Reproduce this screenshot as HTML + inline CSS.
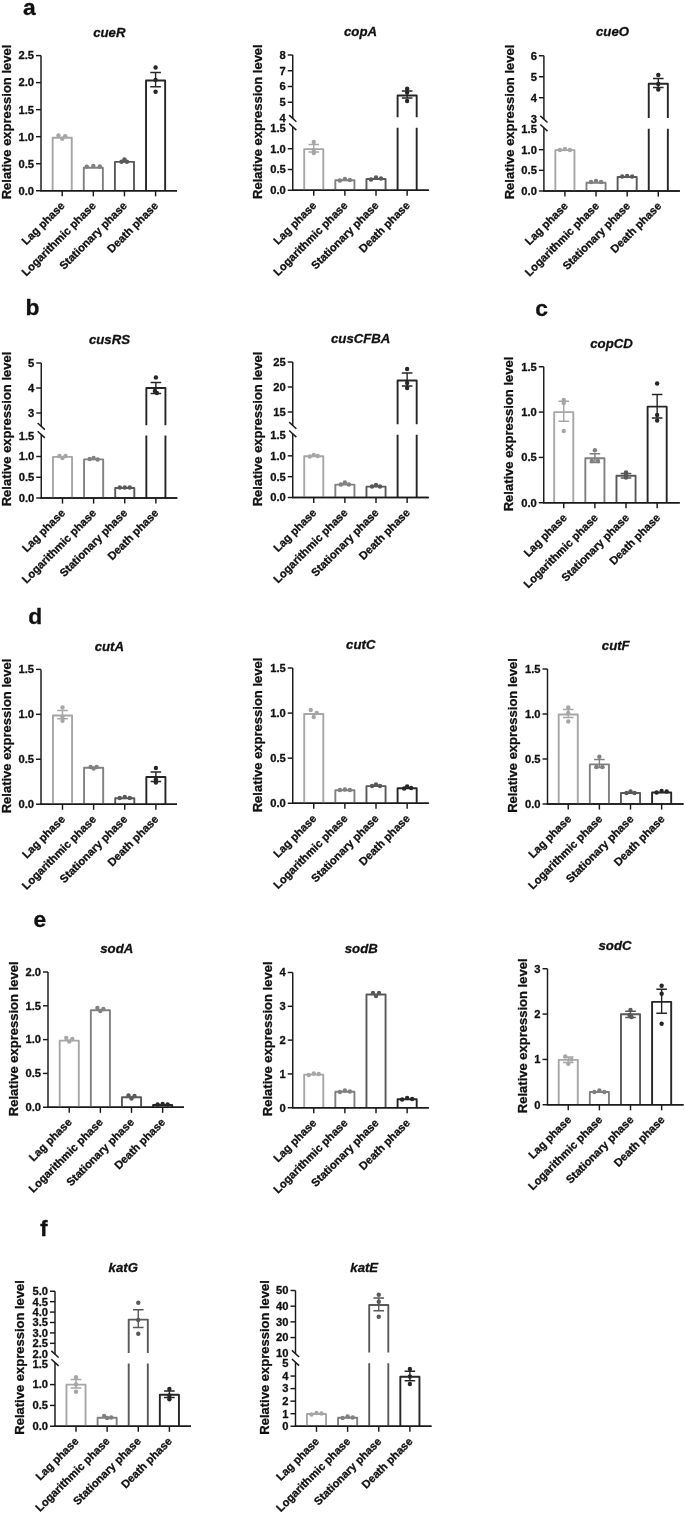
<!DOCTYPE html>
<html><head><meta charset="utf-8"><style>html,body{margin:0;padding:0;background:#fff}svg{display:block;will-change:transform}</style></head><body>
<svg width="685" height="1514" viewBox="0 0 685 1514" font-family="Liberation Sans, sans-serif" font-weight="bold" fill="#111" stroke-linejoin="round"><g stroke="#111" stroke-width="0.3">
<text x="23" y="14.5" font-size="22.8">a</text>
<text x="25.6" y="315.2" font-size="22.8">b</text>
<text x="535.2" y="315.5" font-size="22.8">c</text>
<text x="28.3" y="624.4" font-size="22.8">d</text>
<text x="33.6" y="927" font-size="22.8">e</text>
<text x="40" y="1235.6" font-size="22.8">f</text>
<text x="109.3" y="36.6" font-size="13.2" font-style="italic" text-anchor="middle">cueR</text>
<text transform="translate(11.2,122) rotate(-90)" font-size="13" text-anchor="middle">Relative expression level</text>
<line x1="41" y1="190.75" x2="41" y2="55.6" stroke="#1a1a1a" stroke-width="1.45"/>
<line x1="36" y1="190.75" x2="41" y2="190.75" stroke="#1a1a1a" stroke-width="1.45"/>
<text x="34.0" y="194.6" font-size="11.2" text-anchor="end">0.0</text>
<line x1="36" y1="163.72" x2="41" y2="163.72" stroke="#1a1a1a" stroke-width="1.45"/>
<text x="34.0" y="167.57" font-size="11.2" text-anchor="end">0.5</text>
<line x1="36" y1="136.69" x2="41" y2="136.69" stroke="#1a1a1a" stroke-width="1.45"/>
<text x="34.0" y="140.54" font-size="11.2" text-anchor="end">1.0</text>
<line x1="36" y1="109.66" x2="41" y2="109.66" stroke="#1a1a1a" stroke-width="1.45"/>
<text x="34.0" y="113.50999999999999" font-size="11.2" text-anchor="end">1.5</text>
<line x1="36" y1="82.63" x2="41" y2="82.63" stroke="#1a1a1a" stroke-width="1.45"/>
<text x="34.0" y="86.47999999999999" font-size="11.2" text-anchor="end">2.0</text>
<line x1="36" y1="55.599999999999994" x2="41" y2="55.599999999999994" stroke="#1a1a1a" stroke-width="1.45"/>
<text x="34.0" y="59.449999999999996" font-size="11.2" text-anchor="end">2.5</text>
<line x1="40.275" y1="190.75" x2="177" y2="190.75" stroke="#1a1a1a" stroke-width="1.45"/>
<path d="M52.650000000000006 190.75V137.7712H71.75V190.75" fill="none" stroke="#a6a6a6" stroke-width="1.9"/>
<circle cx="58.45" cy="135.5" r="2.2" fill="#a6a6a6" stroke="none"/>
<circle cx="62.2" cy="138.75" r="2.2" fill="#a6a6a6" stroke="none"/>
<circle cx="65.2" cy="136.25" r="2.2" fill="#a6a6a6" stroke="none"/>
<line x1="62.2" y1="190.75" x2="62.2" y2="196.35" stroke="#1a1a1a" stroke-width="1.45"/>
<text transform="translate(65.5,206.45) rotate(-45)" font-size="11.2" text-anchor="end">Lag phase</text>
<path d="M83.78 190.75V167.7745H102.88V190.75" fill="none" stroke="#808080" stroke-width="1.9"/>
<circle cx="86.83" cy="166.6" r="2.2" fill="#808080" stroke="none"/>
<circle cx="93.33" cy="165.9" r="2.2" fill="#808080" stroke="none"/>
<circle cx="99.83" cy="166.5" r="2.2" fill="#808080" stroke="none"/>
<line x1="93.33" y1="190.75" x2="93.33" y2="196.35" stroke="#1a1a1a" stroke-width="1.45"/>
<text transform="translate(96.63,206.45) rotate(-45)" font-size="11.2" text-anchor="end">Logarithmic phase</text>
<path d="M114.91000000000001 190.75V161.8279H134.01000000000002V190.75" fill="none" stroke="#595959" stroke-width="1.9"/>
<circle cx="121.46000000000001" cy="161.75" r="2.2" fill="#595959" stroke="none"/>
<circle cx="124.46000000000001" cy="159.5" r="2.2" fill="#595959" stroke="none"/>
<circle cx="126.96000000000001" cy="161.75" r="2.2" fill="#595959" stroke="none"/>
<line x1="124.46000000000001" y1="190.75" x2="124.46000000000001" y2="196.35" stroke="#1a1a1a" stroke-width="1.45"/>
<text transform="translate(127.76,206.45) rotate(-45)" font-size="11.2" text-anchor="end">Stationary phase</text>
<path d="M146.04 190.75V80.46759999999999H165.14000000000001V190.75" fill="none" stroke="#262626" stroke-width="1.9"/>
<path d="M155.59 72.5V86.75M150.29 72.5H160.89000000000001M150.29 86.75H160.89000000000001" fill="none" stroke="#262626" stroke-width="1.4"/>
<circle cx="155.59" cy="67.5" r="2.2" fill="#262626" stroke="none"/>
<circle cx="155.59" cy="80" r="2.2" fill="#262626" stroke="none"/>
<circle cx="155.59" cy="91.75" r="2.2" fill="#262626" stroke="none"/>
<line x1="155.59" y1="190.75" x2="155.59" y2="196.35" stroke="#1a1a1a" stroke-width="1.45"/>
<text transform="translate(158.89,206.45) rotate(-45)" font-size="11.2" text-anchor="end">Death phase</text>
<line x1="40.275" y1="190.75" x2="177" y2="190.75" stroke="#1a1a1a" stroke-width="1.45"/>
<text x="360.5" y="35.7" font-size="13.2" font-style="italic" text-anchor="middle">copA</text>
<text transform="translate(262.4,121.6) rotate(-90)" font-size="13" text-anchor="middle">Relative expression level</text>
<line x1="292.75" y1="190.25" x2="292.75" y2="126.8" stroke="#1a1a1a" stroke-width="1.45"/>
<line x1="287.75" y1="190.25" x2="292.75" y2="190.25" stroke="#1a1a1a" stroke-width="1.45"/>
<text x="285.75" y="194.1" font-size="11.2" text-anchor="end">0.0</text>
<line x1="287.75" y1="169.5" x2="292.75" y2="169.5" stroke="#1a1a1a" stroke-width="1.45"/>
<text x="285.75" y="173.35" font-size="11.2" text-anchor="end">0.5</text>
<line x1="287.75" y1="148.75" x2="292.75" y2="148.75" stroke="#1a1a1a" stroke-width="1.45"/>
<text x="285.75" y="152.6" font-size="11.2" text-anchor="end">1.0</text>
<text x="285.75" y="131.85" font-size="11.2" text-anchor="end">1.5</text>
<line x1="292.75" y1="118.45" x2="292.75" y2="55" stroke="#1a1a1a" stroke-width="1.45"/>
<text x="285.75" y="121.85" font-size="11.2" text-anchor="end">4</text>
<line x1="287.75" y1="102.25" x2="292.75" y2="102.25" stroke="#1a1a1a" stroke-width="1.45"/>
<text x="285.75" y="106.1" font-size="11.2" text-anchor="end">5</text>
<line x1="287.75" y1="86.5" x2="292.75" y2="86.5" stroke="#1a1a1a" stroke-width="1.45"/>
<text x="285.75" y="90.35" font-size="11.2" text-anchor="end">6</text>
<line x1="287.75" y1="70.75" x2="292.75" y2="70.75" stroke="#1a1a1a" stroke-width="1.45"/>
<text x="285.75" y="74.6" font-size="11.2" text-anchor="end">7</text>
<line x1="287.75" y1="55.0" x2="292.75" y2="55.0" stroke="#1a1a1a" stroke-width="1.45"/>
<text x="285.75" y="58.85" font-size="11.2" text-anchor="end">8</text>
<line x1="289.15" y1="123.5" x2="296.35" y2="130.1" stroke="#1a1a1a" stroke-width="1.45"/>
<line x1="289.15" y1="115.15" x2="296.35" y2="121.75" stroke="#1a1a1a" stroke-width="1.45"/>
<line x1="292.025" y1="190.25" x2="428.75" y2="190.25" stroke="#1a1a1a" stroke-width="1.45"/>
<path d="M304.2 190.25V149.165H323.3V190.25" fill="none" stroke="#a6a6a6" stroke-width="1.9"/>
<path d="M313.75 144.5V152M308.45 144.5H319.05M308.45 152H319.05" fill="none" stroke="#a6a6a6" stroke-width="1.4"/>
<circle cx="313.75" cy="142" r="2.2" fill="#a6a6a6" stroke="none"/>
<circle cx="313.75" cy="150" r="2.2" fill="#a6a6a6" stroke="none"/>
<circle cx="313.75" cy="153" r="2.2" fill="#a6a6a6" stroke="none"/>
<line x1="313.75" y1="190.25" x2="313.75" y2="195.85" stroke="#1a1a1a" stroke-width="1.45"/>
<text transform="translate(317.25,206.15) rotate(-45)" font-size="11.2" text-anchor="end">Lag phase</text>
<path d="M335.33 190.25V180.29H354.43V190.25" fill="none" stroke="#808080" stroke-width="1.9"/>
<circle cx="339.88" cy="180.5" r="2.2" fill="#808080" stroke="none"/>
<circle cx="344.88" cy="179" r="2.2" fill="#808080" stroke="none"/>
<circle cx="349.88" cy="180" r="2.2" fill="#808080" stroke="none"/>
<line x1="344.88" y1="190.25" x2="344.88" y2="195.85" stroke="#1a1a1a" stroke-width="1.45"/>
<text transform="translate(348.38,206.15) rotate(-45)" font-size="11.2" text-anchor="end">Logarithmic phase</text>
<path d="M366.46 190.25V179.045H385.56V190.25" fill="none" stroke="#595959" stroke-width="1.9"/>
<circle cx="371.01" cy="179.5" r="2.2" fill="#595959" stroke="none"/>
<circle cx="376.01" cy="177.5" r="2.2" fill="#595959" stroke="none"/>
<circle cx="381.01" cy="178.5" r="2.2" fill="#595959" stroke="none"/>
<line x1="376.01" y1="190.25" x2="376.01" y2="195.85" stroke="#1a1a1a" stroke-width="1.45"/>
<text transform="translate(379.51,206.15) rotate(-45)" font-size="11.2" text-anchor="end">Stationary phase</text>
<path d="M397.59 190.25V127.7M416.69 190.25V127.7M397.59 117.3V95.4775H416.69V117.3" fill="none" stroke="#262626" stroke-width="1.9"/>
<path d="M407.14 91V98M401.84 91H412.44M401.84 98H412.44" fill="none" stroke="#262626" stroke-width="1.4"/>
<circle cx="407.14" cy="88.8" r="2.2" fill="#262626" stroke="none"/>
<circle cx="407.14" cy="92.5" r="2.2" fill="#262626" stroke="none"/>
<circle cx="407.14" cy="101" r="2.2" fill="#262626" stroke="none"/>
<line x1="407.14" y1="190.25" x2="407.14" y2="195.85" stroke="#1a1a1a" stroke-width="1.45"/>
<text transform="translate(410.64,206.15) rotate(-45)" font-size="11.2" text-anchor="end">Death phase</text>
<line x1="292.025" y1="190.25" x2="428.75" y2="190.25" stroke="#1a1a1a" stroke-width="1.45"/>
<text x="612.5" y="36.3" font-size="13.2" font-style="italic" text-anchor="middle">cueO</text>
<text transform="translate(513.7,122) rotate(-90)" font-size="13" text-anchor="middle">Relative expression level</text>
<line x1="543.9" y1="191" x2="543.9" y2="127.8" stroke="#1a1a1a" stroke-width="1.45"/>
<line x1="538.9" y1="191.0" x2="543.9" y2="191.0" stroke="#1a1a1a" stroke-width="1.45"/>
<text x="536.9" y="194.85" font-size="11.2" text-anchor="end">0.0</text>
<line x1="538.9" y1="170.33333333333334" x2="543.9" y2="170.33333333333334" stroke="#1a1a1a" stroke-width="1.45"/>
<text x="536.9" y="174.18333333333334" font-size="11.2" text-anchor="end">0.5</text>
<line x1="538.9" y1="149.66666666666669" x2="543.9" y2="149.66666666666669" stroke="#1a1a1a" stroke-width="1.45"/>
<text x="536.9" y="153.51666666666668" font-size="11.2" text-anchor="end">1.0</text>
<text x="536.9" y="132.85" font-size="11.2" text-anchor="end">1.5</text>
<line x1="543.9" y1="119.2" x2="543.9" y2="55.75" stroke="#1a1a1a" stroke-width="1.45"/>
<text x="536.9" y="122.6" font-size="11.2" text-anchor="end">3</text>
<line x1="538.9" y1="97.75" x2="543.9" y2="97.75" stroke="#1a1a1a" stroke-width="1.45"/>
<text x="536.9" y="101.6" font-size="11.2" text-anchor="end">4</text>
<line x1="538.9" y1="76.75" x2="543.9" y2="76.75" stroke="#1a1a1a" stroke-width="1.45"/>
<text x="536.9" y="80.6" font-size="11.2" text-anchor="end">5</text>
<line x1="538.9" y1="55.75" x2="543.9" y2="55.75" stroke="#1a1a1a" stroke-width="1.45"/>
<text x="536.9" y="59.6" font-size="11.2" text-anchor="end">6</text>
<line x1="540.3" y1="124.5" x2="547.5" y2="131.1" stroke="#1a1a1a" stroke-width="1.45"/>
<line x1="540.3" y1="115.9" x2="547.5" y2="122.5" stroke="#1a1a1a" stroke-width="1.45"/>
<line x1="543.175" y1="191" x2="679.9" y2="191" stroke="#1a1a1a" stroke-width="1.45"/>
<path d="M555.35 191V150.07999999999998H574.4499999999999V191" fill="none" stroke="#a6a6a6" stroke-width="1.9"/>
<circle cx="559.9" cy="150" r="2.2" fill="#a6a6a6" stroke="none"/>
<circle cx="564.9" cy="149" r="2.2" fill="#a6a6a6" stroke="none"/>
<circle cx="569.9" cy="150" r="2.2" fill="#a6a6a6" stroke="none"/>
<line x1="564.9" y1="191" x2="564.9" y2="196.6" stroke="#1a1a1a" stroke-width="1.45"/>
<text transform="translate(568.7,206.7) rotate(-45)" font-size="11.2" text-anchor="end">Lag phase</text>
<path d="M586.48 191V182.73333333333335H605.5799999999999V191" fill="none" stroke="#808080" stroke-width="1.9"/>
<circle cx="591.03" cy="182" r="2.2" fill="#808080" stroke="none"/>
<circle cx="596.03" cy="181" r="2.2" fill="#808080" stroke="none"/>
<circle cx="601.03" cy="182" r="2.2" fill="#808080" stroke="none"/>
<line x1="596.03" y1="191" x2="596.03" y2="196.6" stroke="#1a1a1a" stroke-width="1.45"/>
<text transform="translate(599.83,206.7) rotate(-45)" font-size="11.2" text-anchor="end">Logarithmic phase</text>
<path d="M617.61 191V176.94666666666666H636.7099999999999V191" fill="none" stroke="#595959" stroke-width="1.9"/>
<circle cx="622.16" cy="176.5" r="2.2" fill="#595959" stroke="none"/>
<circle cx="627.16" cy="176" r="2.2" fill="#595959" stroke="none"/>
<circle cx="632.16" cy="176.5" r="2.2" fill="#595959" stroke="none"/>
<line x1="627.16" y1="191" x2="627.16" y2="196.6" stroke="#1a1a1a" stroke-width="1.45"/>
<text transform="translate(630.96,206.7) rotate(-45)" font-size="11.2" text-anchor="end">Stationary phase</text>
<path d="M648.74 191V128.7M667.8399999999999 191V128.7M648.74 118.05V83.68H667.8399999999999V118.05" fill="none" stroke="#262626" stroke-width="1.9"/>
<path d="M658.29 78.5V87.5M652.99 78.5H663.5899999999999M652.99 87.5H663.5899999999999" fill="none" stroke="#262626" stroke-width="1.4"/>
<circle cx="658.29" cy="75" r="2.2" fill="#262626" stroke="none"/>
<circle cx="658.29" cy="84" r="2.2" fill="#262626" stroke="none"/>
<circle cx="658.29" cy="89.5" r="2.2" fill="#262626" stroke="none"/>
<line x1="658.29" y1="191" x2="658.29" y2="196.6" stroke="#1a1a1a" stroke-width="1.45"/>
<text transform="translate(662.09,206.7) rotate(-45)" font-size="11.2" text-anchor="end">Death phase</text>
<line x1="543.175" y1="191" x2="679.9" y2="191" stroke="#1a1a1a" stroke-width="1.45"/>
<text x="109.5" y="343.75" font-size="13.2" font-style="italic" text-anchor="middle">cusRS</text>
<text transform="translate(11.2,429) rotate(-90)" font-size="13" text-anchor="middle">Relative expression level</text>
<line x1="41.25" y1="498" x2="41.25" y2="434.55" stroke="#1a1a1a" stroke-width="1.45"/>
<line x1="36.25" y1="498.0" x2="41.25" y2="498.0" stroke="#1a1a1a" stroke-width="1.45"/>
<text x="34.25" y="501.85" font-size="11.2" text-anchor="end">0.0</text>
<line x1="36.25" y1="477.25" x2="41.25" y2="477.25" stroke="#1a1a1a" stroke-width="1.45"/>
<text x="34.25" y="481.1" font-size="11.2" text-anchor="end">0.5</text>
<line x1="36.25" y1="456.5" x2="41.25" y2="456.5" stroke="#1a1a1a" stroke-width="1.45"/>
<text x="34.25" y="460.35" font-size="11.2" text-anchor="end">1.0</text>
<text x="34.25" y="439.6" font-size="11.2" text-anchor="end">1.5</text>
<line x1="41.25" y1="426.34999999999997" x2="41.25" y2="363" stroke="#1a1a1a" stroke-width="1.45"/>
<line x1="36.25" y1="413.0" x2="41.25" y2="413.0" stroke="#1a1a1a" stroke-width="1.45"/>
<text x="34.25" y="416.85" font-size="11.2" text-anchor="end">3</text>
<line x1="36.25" y1="388.0" x2="41.25" y2="388.0" stroke="#1a1a1a" stroke-width="1.45"/>
<text x="34.25" y="391.85" font-size="11.2" text-anchor="end">4</text>
<line x1="36.25" y1="363.0" x2="41.25" y2="363.0" stroke="#1a1a1a" stroke-width="1.45"/>
<text x="34.25" y="366.85" font-size="11.2" text-anchor="end">5</text>
<line x1="37.65" y1="431.25" x2="44.85" y2="437.85" stroke="#1a1a1a" stroke-width="1.45"/>
<line x1="37.65" y1="423.04999999999995" x2="44.85" y2="429.65" stroke="#1a1a1a" stroke-width="1.45"/>
<line x1="40.525" y1="498" x2="177.25" y2="498" stroke="#1a1a1a" stroke-width="1.45"/>
<path d="M52.95 498V456.915H72.05V498" fill="none" stroke="#a6a6a6" stroke-width="1.9"/>
<circle cx="59.5" cy="456" r="2.2" fill="#a6a6a6" stroke="none"/>
<circle cx="62.5" cy="458" r="2.2" fill="#a6a6a6" stroke="none"/>
<circle cx="65.5" cy="456" r="2.2" fill="#a6a6a6" stroke="none"/>
<line x1="62.5" y1="498" x2="62.5" y2="503.6" stroke="#1a1a1a" stroke-width="1.45"/>
<text transform="translate(65.8,513.7) rotate(-45)" font-size="11.2" text-anchor="end">Lag phase</text>
<path d="M84.08 498V459.405H103.17999999999999V498" fill="none" stroke="#808080" stroke-width="1.9"/>
<circle cx="89.63" cy="459" r="2.2" fill="#808080" stroke="none"/>
<circle cx="93.63" cy="458" r="2.2" fill="#808080" stroke="none"/>
<circle cx="97.63" cy="459.5" r="2.2" fill="#808080" stroke="none"/>
<line x1="93.63" y1="498" x2="93.63" y2="503.6" stroke="#1a1a1a" stroke-width="1.45"/>
<text transform="translate(96.93,513.7) rotate(-45)" font-size="11.2" text-anchor="end">Logarithmic phase</text>
<path d="M115.21 498V488.04H134.31V498" fill="none" stroke="#595959" stroke-width="1.9"/>
<circle cx="119.75999999999999" cy="487.5" r="2.2" fill="#595959" stroke="none"/>
<circle cx="124.75999999999999" cy="487.5" r="2.2" fill="#595959" stroke="none"/>
<circle cx="129.76" cy="487.5" r="2.2" fill="#595959" stroke="none"/>
<line x1="124.75999999999999" y1="498" x2="124.75999999999999" y2="503.6" stroke="#1a1a1a" stroke-width="1.45"/>
<text transform="translate(128.06,513.7) rotate(-45)" font-size="11.2" text-anchor="end">Stationary phase</text>
<path d="M146.33999999999997 498V435.45M165.44 498V435.45M146.33999999999997 425.2V388.0H165.44V425.2" fill="none" stroke="#262626" stroke-width="1.9"/>
<path d="M155.89 382.5V393.5M150.58999999999997 382.5H161.19M150.58999999999997 393.5H161.19" fill="none" stroke="#262626" stroke-width="1.4"/>
<circle cx="155.89" cy="377.5" r="2.2" fill="#262626" stroke="none"/>
<circle cx="154.89" cy="391" r="2.2" fill="#262626" stroke="none"/>
<circle cx="156.89" cy="393" r="2.2" fill="#262626" stroke="none"/>
<line x1="155.89" y1="498" x2="155.89" y2="503.6" stroke="#1a1a1a" stroke-width="1.45"/>
<text transform="translate(159.19,513.7) rotate(-45)" font-size="11.2" text-anchor="end">Death phase</text>
<line x1="40.525" y1="498" x2="177.25" y2="498" stroke="#1a1a1a" stroke-width="1.45"/>
<text x="360.7" y="342.9" font-size="13.2" font-style="italic" text-anchor="middle">cusCFBA</text>
<text transform="translate(262.3,429) rotate(-90)" font-size="13" text-anchor="middle">Relative expression level</text>
<line x1="292.75" y1="497.5" x2="292.75" y2="433.8" stroke="#1a1a1a" stroke-width="1.45"/>
<line x1="287.75" y1="497.5" x2="292.75" y2="497.5" stroke="#1a1a1a" stroke-width="1.45"/>
<text x="285.75" y="501.35" font-size="11.2" text-anchor="end">0.0</text>
<line x1="287.75" y1="476.6666666666667" x2="292.75" y2="476.6666666666667" stroke="#1a1a1a" stroke-width="1.45"/>
<text x="285.75" y="480.5166666666667" font-size="11.2" text-anchor="end">0.5</text>
<line x1="287.75" y1="455.8333333333333" x2="292.75" y2="455.8333333333333" stroke="#1a1a1a" stroke-width="1.45"/>
<text x="285.75" y="459.68333333333334" font-size="11.2" text-anchor="end">1.0</text>
<text x="285.75" y="438.85" font-size="11.2" text-anchor="end">1.5</text>
<line x1="292.75" y1="425.45" x2="292.75" y2="362" stroke="#1a1a1a" stroke-width="1.45"/>
<line x1="287.75" y1="412.0" x2="292.75" y2="412.0" stroke="#1a1a1a" stroke-width="1.45"/>
<text x="285.75" y="415.85" font-size="11.2" text-anchor="end">15</text>
<line x1="287.75" y1="387.0" x2="292.75" y2="387.0" stroke="#1a1a1a" stroke-width="1.45"/>
<text x="285.75" y="390.85" font-size="11.2" text-anchor="end">20</text>
<line x1="287.75" y1="362.0" x2="292.75" y2="362.0" stroke="#1a1a1a" stroke-width="1.45"/>
<text x="285.75" y="365.85" font-size="11.2" text-anchor="end">25</text>
<line x1="289.15" y1="430.5" x2="296.35" y2="437.1" stroke="#1a1a1a" stroke-width="1.45"/>
<line x1="289.15" y1="422.15" x2="296.35" y2="428.75" stroke="#1a1a1a" stroke-width="1.45"/>
<line x1="292.025" y1="497.5" x2="428.75" y2="497.5" stroke="#1a1a1a" stroke-width="1.45"/>
<path d="M304.2 497.5V456.25H323.3V497.5" fill="none" stroke="#a6a6a6" stroke-width="1.9"/>
<circle cx="309.75" cy="456.5" r="2.2" fill="#a6a6a6" stroke="none"/>
<circle cx="313.75" cy="455" r="2.2" fill="#a6a6a6" stroke="none"/>
<circle cx="317.75" cy="456" r="2.2" fill="#a6a6a6" stroke="none"/>
<line x1="313.75" y1="497.5" x2="313.75" y2="503.1" stroke="#1a1a1a" stroke-width="1.45"/>
<text transform="translate(317.25,513.4) rotate(-45)" font-size="11.2" text-anchor="end">Lag phase</text>
<path d="M335.33 497.5V484.5833333333333H354.43V497.5" fill="none" stroke="#808080" stroke-width="1.9"/>
<circle cx="340.88" cy="484.5" r="2.2" fill="#808080" stroke="none"/>
<circle cx="344.88" cy="482.5" r="2.2" fill="#808080" stroke="none"/>
<circle cx="348.88" cy="484.5" r="2.2" fill="#808080" stroke="none"/>
<line x1="344.88" y1="497.5" x2="344.88" y2="503.1" stroke="#1a1a1a" stroke-width="1.45"/>
<text transform="translate(348.38,513.4) rotate(-45)" font-size="11.2" text-anchor="end">Logarithmic phase</text>
<path d="M366.46 497.5V486.6666666666667H385.56V497.5" fill="none" stroke="#595959" stroke-width="1.9"/>
<circle cx="372.01" cy="486.5" r="2.2" fill="#595959" stroke="none"/>
<circle cx="376.01" cy="485" r="2.2" fill="#595959" stroke="none"/>
<circle cx="380.01" cy="486.5" r="2.2" fill="#595959" stroke="none"/>
<line x1="376.01" y1="497.5" x2="376.01" y2="503.1" stroke="#1a1a1a" stroke-width="1.45"/>
<text transform="translate(379.51,513.4) rotate(-45)" font-size="11.2" text-anchor="end">Stationary phase</text>
<path d="M397.59 497.5V434.7M416.69 497.5V434.7M397.59 424.3V380.5H416.69V424.3" fill="none" stroke="#262626" stroke-width="1.9"/>
<path d="M407.14 373V386M401.84 373H412.44M401.84 386H412.44" fill="none" stroke="#262626" stroke-width="1.4"/>
<circle cx="407.14" cy="369" r="2.2" fill="#262626" stroke="none"/>
<circle cx="407.14" cy="383" r="2.2" fill="#262626" stroke="none"/>
<circle cx="407.14" cy="388" r="2.2" fill="#262626" stroke="none"/>
<line x1="407.14" y1="497.5" x2="407.14" y2="503.1" stroke="#1a1a1a" stroke-width="1.45"/>
<text transform="translate(410.64,513.4) rotate(-45)" font-size="11.2" text-anchor="end">Death phase</text>
<line x1="292.025" y1="497.5" x2="428.75" y2="497.5" stroke="#1a1a1a" stroke-width="1.45"/>
<text x="611.5" y="348" font-size="13.2" font-style="italic" text-anchor="middle">copCD</text>
<text transform="translate(513.4,434) rotate(-90)" font-size="13" text-anchor="middle">Relative expression level</text>
<line x1="543.75" y1="502.75" x2="543.75" y2="366.75" stroke="#1a1a1a" stroke-width="1.45"/>
<line x1="538.75" y1="502.75" x2="543.75" y2="502.75" stroke="#1a1a1a" stroke-width="1.45"/>
<text x="536.75" y="506.6" font-size="11.2" text-anchor="end">0.0</text>
<line x1="538.75" y1="457.4166666666667" x2="543.75" y2="457.4166666666667" stroke="#1a1a1a" stroke-width="1.45"/>
<text x="536.75" y="461.2666666666667" font-size="11.2" text-anchor="end">0.5</text>
<line x1="538.75" y1="412.08333333333337" x2="543.75" y2="412.08333333333337" stroke="#1a1a1a" stroke-width="1.45"/>
<text x="536.75" y="415.9333333333334" font-size="11.2" text-anchor="end">1.0</text>
<line x1="538.75" y1="366.75" x2="543.75" y2="366.75" stroke="#1a1a1a" stroke-width="1.45"/>
<text x="536.75" y="370.6" font-size="11.2" text-anchor="end">1.5</text>
<line x1="543.025" y1="502.75" x2="679.75" y2="502.75" stroke="#1a1a1a" stroke-width="1.45"/>
<path d="M554.2 502.75V412.08333333333337H573.3V502.75" fill="none" stroke="#a6a6a6" stroke-width="1.9"/>
<path d="M563.75 401.25V421.25M558.45 401.25H569.05M558.45 421.25H569.05" fill="none" stroke="#a6a6a6" stroke-width="1.4"/>
<circle cx="563.75" cy="400" r="2.2" fill="#a6a6a6" stroke="none"/>
<circle cx="563.75" cy="403" r="2.2" fill="#a6a6a6" stroke="none"/>
<circle cx="563.75" cy="431" r="2.2" fill="#a6a6a6" stroke="none"/>
<line x1="563.75" y1="502.75" x2="563.75" y2="508.35" stroke="#1a1a1a" stroke-width="1.45"/>
<text transform="translate(567.55,518.45) rotate(-45)" font-size="11.2" text-anchor="end">Lag phase</text>
<path d="M585.33 502.75V458.3233333333333H604.43V502.75" fill="none" stroke="#808080" stroke-width="1.9"/>
<path d="M594.88 453.75V462.5M589.58 453.75H600.18M589.58 462.5H600.18" fill="none" stroke="#808080" stroke-width="1.4"/>
<circle cx="594.88" cy="450.25" r="2.2" fill="#808080" stroke="none"/>
<circle cx="591.88" cy="461" r="2.2" fill="#808080" stroke="none"/>
<circle cx="597.88" cy="461" r="2.2" fill="#808080" stroke="none"/>
<line x1="594.88" y1="502.75" x2="594.88" y2="508.35" stroke="#1a1a1a" stroke-width="1.45"/>
<text transform="translate(598.68,518.45) rotate(-45)" font-size="11.2" text-anchor="end">Logarithmic phase</text>
<path d="M616.46 502.75V475.73133333333334H635.56V502.75" fill="none" stroke="#595959" stroke-width="1.9"/>
<path d="M626.01 473.5V478M620.71 473.5H631.31M620.71 478H631.31" fill="none" stroke="#595959" stroke-width="1.4"/>
<circle cx="626.01" cy="472.5" r="2.2" fill="#595959" stroke="none"/>
<circle cx="626.01" cy="475" r="2.2" fill="#595959" stroke="none"/>
<circle cx="626.01" cy="477.5" r="2.2" fill="#595959" stroke="none"/>
<line x1="626.01" y1="502.75" x2="626.01" y2="508.35" stroke="#1a1a1a" stroke-width="1.45"/>
<text transform="translate(629.81,518.45) rotate(-45)" font-size="11.2" text-anchor="end">Stationary phase</text>
<path d="M647.59 502.75V406.6433333333333H666.6899999999999V502.75" fill="none" stroke="#262626" stroke-width="1.9"/>
<path d="M657.14 394.5V418M651.84 394.5H662.4399999999999M651.84 418H662.4399999999999" fill="none" stroke="#262626" stroke-width="1.4"/>
<circle cx="657.14" cy="383.5" r="2.2" fill="#262626" stroke="none"/>
<circle cx="657.14" cy="415" r="2.2" fill="#262626" stroke="none"/>
<circle cx="657.14" cy="420.5" r="2.2" fill="#262626" stroke="none"/>
<line x1="657.14" y1="502.75" x2="657.14" y2="508.35" stroke="#1a1a1a" stroke-width="1.45"/>
<text transform="translate(660.94,518.45) rotate(-45)" font-size="11.2" text-anchor="end">Death phase</text>
<line x1="543.025" y1="502.75" x2="679.75" y2="502.75" stroke="#1a1a1a" stroke-width="1.45"/>
<text x="109.3" y="650.5" font-size="13.2" font-style="italic" text-anchor="middle">cutA</text>
<text transform="translate(11.2,736) rotate(-90)" font-size="13" text-anchor="middle">Relative expression level</text>
<line x1="41" y1="804.2" x2="41" y2="669.4" stroke="#1a1a1a" stroke-width="1.45"/>
<line x1="36" y1="804.2" x2="41" y2="804.2" stroke="#1a1a1a" stroke-width="1.45"/>
<text x="34.0" y="808.0500000000001" font-size="11.2" text-anchor="end">0.0</text>
<line x1="36" y1="759.2666666666667" x2="41" y2="759.2666666666667" stroke="#1a1a1a" stroke-width="1.45"/>
<text x="34.0" y="763.1166666666667" font-size="11.2" text-anchor="end">0.5</text>
<line x1="36" y1="714.3333333333334" x2="41" y2="714.3333333333334" stroke="#1a1a1a" stroke-width="1.45"/>
<text x="34.0" y="718.1833333333334" font-size="11.2" text-anchor="end">1.0</text>
<line x1="36" y1="669.4" x2="41" y2="669.4" stroke="#1a1a1a" stroke-width="1.45"/>
<text x="34.0" y="673.25" font-size="11.2" text-anchor="end">1.5</text>
<line x1="40.275" y1="804.2" x2="177" y2="804.2" stroke="#1a1a1a" stroke-width="1.45"/>
<path d="M52.95 804.2V715.5016H72.05V804.2" fill="none" stroke="#a6a6a6" stroke-width="1.9"/>
<path d="M62.5 710.5V718.75M57.2 710.5H67.8M57.2 718.75H67.8" fill="none" stroke="#a6a6a6" stroke-width="1.4"/>
<circle cx="62.5" cy="707.5" r="2.2" fill="#a6a6a6" stroke="none"/>
<circle cx="62.5" cy="716.75" r="2.2" fill="#a6a6a6" stroke="none"/>
<circle cx="62.5" cy="720.75" r="2.2" fill="#a6a6a6" stroke="none"/>
<line x1="62.5" y1="804.2" x2="62.5" y2="809.8000000000001" stroke="#1a1a1a" stroke-width="1.45"/>
<text transform="translate(65.8,819.9) rotate(-45)" font-size="11.2" text-anchor="end">Lag phase</text>
<path d="M84.08 804.2V767.7141333333334H103.17999999999999V804.2" fill="none" stroke="#808080" stroke-width="1.9"/>
<circle cx="90.63" cy="767" r="2.2" fill="#808080" stroke="none"/>
<circle cx="93.63" cy="768.5" r="2.2" fill="#808080" stroke="none"/>
<circle cx="96.63" cy="767" r="2.2" fill="#808080" stroke="none"/>
<line x1="93.63" y1="804.2" x2="93.63" y2="809.8000000000001" stroke="#1a1a1a" stroke-width="1.45"/>
<text transform="translate(96.93,819.9) rotate(-45)" font-size="11.2" text-anchor="end">Logarithmic phase</text>
<path d="M115.21 804.2V798.2688H134.31V804.2" fill="none" stroke="#595959" stroke-width="1.9"/>
<circle cx="119.75999999999999" cy="798" r="2.2" fill="#595959" stroke="none"/>
<circle cx="124.75999999999999" cy="797" r="2.2" fill="#595959" stroke="none"/>
<circle cx="129.76" cy="798" r="2.2" fill="#595959" stroke="none"/>
<line x1="124.75999999999999" y1="804.2" x2="124.75999999999999" y2="809.8000000000001" stroke="#1a1a1a" stroke-width="1.45"/>
<text transform="translate(128.06,819.9) rotate(-45)" font-size="11.2" text-anchor="end">Stationary phase</text>
<path d="M146.33999999999997 804.2V776.9704H165.44V804.2" fill="none" stroke="#262626" stroke-width="1.9"/>
<path d="M155.89 772V781.5M150.58999999999997 772H161.19M150.58999999999997 781.5H161.19" fill="none" stroke="#262626" stroke-width="1.4"/>
<circle cx="155.89" cy="768" r="2.2" fill="#262626" stroke="none"/>
<circle cx="155.89" cy="779.5" r="2.2" fill="#262626" stroke="none"/>
<circle cx="155.89" cy="782.5" r="2.2" fill="#262626" stroke="none"/>
<line x1="155.89" y1="804.2" x2="155.89" y2="809.8000000000001" stroke="#1a1a1a" stroke-width="1.45"/>
<text transform="translate(159.19,819.9) rotate(-45)" font-size="11.2" text-anchor="end">Death phase</text>
<line x1="40.275" y1="804.2" x2="177" y2="804.2" stroke="#1a1a1a" stroke-width="1.45"/>
<text x="360.75" y="649.25" font-size="13.2" font-style="italic" text-anchor="middle">cutC</text>
<text transform="translate(262.2,735) rotate(-90)" font-size="13" text-anchor="middle">Relative expression level</text>
<line x1="292.75" y1="803.25" x2="292.75" y2="668" stroke="#1a1a1a" stroke-width="1.45"/>
<line x1="287.75" y1="803.25" x2="292.75" y2="803.25" stroke="#1a1a1a" stroke-width="1.45"/>
<text x="285.75" y="807.1" font-size="11.2" text-anchor="end">0.0</text>
<line x1="287.75" y1="758.1666666666666" x2="292.75" y2="758.1666666666666" stroke="#1a1a1a" stroke-width="1.45"/>
<text x="285.75" y="762.0166666666667" font-size="11.2" text-anchor="end">0.5</text>
<line x1="287.75" y1="713.0833333333334" x2="292.75" y2="713.0833333333334" stroke="#1a1a1a" stroke-width="1.45"/>
<text x="285.75" y="716.9333333333334" font-size="11.2" text-anchor="end">1.0</text>
<line x1="287.75" y1="668.0" x2="292.75" y2="668.0" stroke="#1a1a1a" stroke-width="1.45"/>
<text x="285.75" y="671.85" font-size="11.2" text-anchor="end">1.5</text>
<line x1="292.025" y1="803.25" x2="428.75" y2="803.25" stroke="#1a1a1a" stroke-width="1.45"/>
<path d="M304.2 803.25V713.985H323.3V803.25" fill="none" stroke="#a6a6a6" stroke-width="1.9"/>
<circle cx="310.75" cy="710" r="2.2" fill="#a6a6a6" stroke="none"/>
<circle cx="313.75" cy="717" r="2.2" fill="#a6a6a6" stroke="none"/>
<circle cx="316.75" cy="713" r="2.2" fill="#a6a6a6" stroke="none"/>
<line x1="313.75" y1="803.25" x2="313.75" y2="808.85" stroke="#1a1a1a" stroke-width="1.45"/>
<text transform="translate(317.25,819.15) rotate(-45)" font-size="11.2" text-anchor="end">Lag phase</text>
<path d="M335.33 803.25V790.266H354.43V803.25" fill="none" stroke="#808080" stroke-width="1.9"/>
<circle cx="339.88" cy="790" r="2.2" fill="#808080" stroke="none"/>
<circle cx="344.88" cy="789.5" r="2.2" fill="#808080" stroke="none"/>
<circle cx="349.88" cy="790" r="2.2" fill="#808080" stroke="none"/>
<line x1="344.88" y1="803.25" x2="344.88" y2="808.85" stroke="#1a1a1a" stroke-width="1.45"/>
<text transform="translate(348.38,819.15) rotate(-45)" font-size="11.2" text-anchor="end">Logarithmic phase</text>
<path d="M366.46 803.25V786.1183333333333H385.56V803.25" fill="none" stroke="#595959" stroke-width="1.9"/>
<circle cx="372.01" cy="786" r="2.2" fill="#595959" stroke="none"/>
<circle cx="376.01" cy="784.5" r="2.2" fill="#595959" stroke="none"/>
<circle cx="380.01" cy="786" r="2.2" fill="#595959" stroke="none"/>
<line x1="376.01" y1="803.25" x2="376.01" y2="808.85" stroke="#1a1a1a" stroke-width="1.45"/>
<text transform="translate(379.51,819.15) rotate(-45)" font-size="11.2" text-anchor="end">Stationary phase</text>
<path d="M397.59 803.25V788.2823333333333H416.69V803.25" fill="none" stroke="#262626" stroke-width="1.9"/>
<circle cx="404.14" cy="788.5" r="2.2" fill="#262626" stroke="none"/>
<circle cx="407.14" cy="786.5" r="2.2" fill="#262626" stroke="none"/>
<circle cx="411.14" cy="788" r="2.2" fill="#262626" stroke="none"/>
<line x1="407.14" y1="803.25" x2="407.14" y2="808.85" stroke="#1a1a1a" stroke-width="1.45"/>
<text transform="translate(410.64,819.15) rotate(-45)" font-size="11.2" text-anchor="end">Death phase</text>
<line x1="292.025" y1="803.25" x2="428.75" y2="803.25" stroke="#1a1a1a" stroke-width="1.45"/>
<text x="615.75" y="650" font-size="13.2" font-style="italic" text-anchor="middle">cutF</text>
<text transform="translate(517,735.5) rotate(-90)" font-size="13" text-anchor="middle">Relative expression level</text>
<line x1="547.5" y1="804" x2="547.5" y2="669" stroke="#1a1a1a" stroke-width="1.45"/>
<line x1="542.5" y1="804.0" x2="547.5" y2="804.0" stroke="#1a1a1a" stroke-width="1.45"/>
<text x="540.5" y="807.85" font-size="11.2" text-anchor="end">0.0</text>
<line x1="542.5" y1="759.0" x2="547.5" y2="759.0" stroke="#1a1a1a" stroke-width="1.45"/>
<text x="540.5" y="762.85" font-size="11.2" text-anchor="end">0.5</text>
<line x1="542.5" y1="714.0" x2="547.5" y2="714.0" stroke="#1a1a1a" stroke-width="1.45"/>
<text x="540.5" y="717.85" font-size="11.2" text-anchor="end">1.0</text>
<line x1="542.5" y1="669.0" x2="547.5" y2="669.0" stroke="#1a1a1a" stroke-width="1.45"/>
<text x="540.5" y="672.85" font-size="11.2" text-anchor="end">1.5</text>
<line x1="546.775" y1="804" x2="683.5" y2="804" stroke="#1a1a1a" stroke-width="1.45"/>
<path d="M558.7 804V714.45H577.8V804" fill="none" stroke="#a6a6a6" stroke-width="1.9"/>
<path d="M568.25 709.5V717.5M562.95 709.5H573.55M562.95 717.5H573.55" fill="none" stroke="#a6a6a6" stroke-width="1.4"/>
<circle cx="568.25" cy="707.5" r="2.2" fill="#a6a6a6" stroke="none"/>
<circle cx="568.25" cy="713" r="2.2" fill="#a6a6a6" stroke="none"/>
<circle cx="568.25" cy="721.5" r="2.2" fill="#a6a6a6" stroke="none"/>
<line x1="568.25" y1="804" x2="568.25" y2="809.6" stroke="#1a1a1a" stroke-width="1.45"/>
<text transform="translate(572.05,819.7) rotate(-45)" font-size="11.2" text-anchor="end">Lag phase</text>
<path d="M589.83 804V764.4H608.93V804" fill="none" stroke="#808080" stroke-width="1.9"/>
<path d="M599.38 759.5V767.5M594.08 759.5H604.68M594.08 767.5H604.68" fill="none" stroke="#808080" stroke-width="1.4"/>
<circle cx="599.38" cy="756.75" r="2.2" fill="#808080" stroke="none"/>
<circle cx="596.38" cy="767" r="2.2" fill="#808080" stroke="none"/>
<circle cx="602.38" cy="767" r="2.2" fill="#808080" stroke="none"/>
<line x1="599.38" y1="804" x2="599.38" y2="809.6" stroke="#1a1a1a" stroke-width="1.45"/>
<text transform="translate(603.18,819.7) rotate(-45)" font-size="11.2" text-anchor="end">Logarithmic phase</text>
<path d="M620.96 804V793.02H640.06V804" fill="none" stroke="#595959" stroke-width="1.9"/>
<circle cx="626.51" cy="793" r="2.2" fill="#595959" stroke="none"/>
<circle cx="630.51" cy="791.5" r="2.2" fill="#595959" stroke="none"/>
<circle cx="634.51" cy="793" r="2.2" fill="#595959" stroke="none"/>
<line x1="630.51" y1="804" x2="630.51" y2="809.6" stroke="#1a1a1a" stroke-width="1.45"/>
<text transform="translate(634.31,819.7) rotate(-45)" font-size="11.2" text-anchor="end">Stationary phase</text>
<path d="M652.09 804V792.48H671.1899999999999V804" fill="none" stroke="#262626" stroke-width="1.9"/>
<circle cx="656.64" cy="792.5" r="2.2" fill="#262626" stroke="none"/>
<circle cx="661.64" cy="791" r="2.2" fill="#262626" stroke="none"/>
<circle cx="666.64" cy="791.5" r="2.2" fill="#262626" stroke="none"/>
<line x1="661.64" y1="804" x2="661.64" y2="809.6" stroke="#1a1a1a" stroke-width="1.45"/>
<text transform="translate(665.44,819.7) rotate(-45)" font-size="11.2" text-anchor="end">Death phase</text>
<line x1="546.775" y1="804" x2="683.5" y2="804" stroke="#1a1a1a" stroke-width="1.45"/>
<text x="116.75" y="953" font-size="13.2" font-style="italic" text-anchor="middle">sodA</text>
<text transform="translate(18,1038.8) rotate(-90)" font-size="13" text-anchor="middle">Relative expression level</text>
<line x1="48" y1="1107.25" x2="48" y2="972" stroke="#1a1a1a" stroke-width="1.45"/>
<line x1="43" y1="1107.25" x2="48" y2="1107.25" stroke="#1a1a1a" stroke-width="1.45"/>
<text x="41.0" y="1111.1" font-size="11.2" text-anchor="end">0.0</text>
<line x1="43" y1="1073.4375" x2="48" y2="1073.4375" stroke="#1a1a1a" stroke-width="1.45"/>
<text x="41.0" y="1077.2875" font-size="11.2" text-anchor="end">0.5</text>
<line x1="43" y1="1039.625" x2="48" y2="1039.625" stroke="#1a1a1a" stroke-width="1.45"/>
<text x="41.0" y="1043.475" font-size="11.2" text-anchor="end">1.0</text>
<line x1="43" y1="1005.8125" x2="48" y2="1005.8125" stroke="#1a1a1a" stroke-width="1.45"/>
<text x="41.0" y="1009.6625" font-size="11.2" text-anchor="end">1.5</text>
<line x1="43" y1="972.0" x2="48" y2="972.0" stroke="#1a1a1a" stroke-width="1.45"/>
<text x="41.0" y="975.85" font-size="11.2" text-anchor="end">2.0</text>
<line x1="47.275" y1="1107.25" x2="184" y2="1107.25" stroke="#1a1a1a" stroke-width="1.45"/>
<path d="M59.7 1107.25V1040.639375H78.8V1107.25" fill="none" stroke="#a6a6a6" stroke-width="1.9"/>
<circle cx="66.25" cy="1038" r="2.2" fill="#a6a6a6" stroke="none"/>
<circle cx="69.25" cy="1041.5" r="2.2" fill="#a6a6a6" stroke="none"/>
<circle cx="72.25" cy="1039" r="2.2" fill="#a6a6a6" stroke="none"/>
<line x1="69.25" y1="1107.25" x2="69.25" y2="1112.85" stroke="#1a1a1a" stroke-width="1.45"/>
<text transform="translate(72.55,1122.95) rotate(-45)" font-size="11.2" text-anchor="end">Lag phase</text>
<path d="M90.83 1107.25V1010.208125H109.92999999999999V1107.25" fill="none" stroke="#808080" stroke-width="1.9"/>
<circle cx="97.38" cy="1008" r="2.2" fill="#808080" stroke="none"/>
<circle cx="100.38" cy="1011" r="2.2" fill="#808080" stroke="none"/>
<circle cx="103.38" cy="1009" r="2.2" fill="#808080" stroke="none"/>
<line x1="100.38" y1="1107.25" x2="100.38" y2="1112.85" stroke="#1a1a1a" stroke-width="1.45"/>
<text transform="translate(103.68,1122.95) rotate(-45)" font-size="11.2" text-anchor="end">Logarithmic phase</text>
<path d="M121.96 1107.25V1097.2415H141.06V1107.25" fill="none" stroke="#595959" stroke-width="1.9"/>
<circle cx="128.51" cy="1095.5" r="2.2" fill="#595959" stroke="none"/>
<circle cx="131.51" cy="1098.5" r="2.2" fill="#595959" stroke="none"/>
<circle cx="134.51" cy="1096" r="2.2" fill="#595959" stroke="none"/>
<line x1="131.51" y1="1107.25" x2="131.51" y2="1112.85" stroke="#1a1a1a" stroke-width="1.45"/>
<text transform="translate(134.81,1122.95) rotate(-45)" font-size="11.2" text-anchor="end">Stationary phase</text>
<path d="M153.08999999999997 1107.25V1105.018375H172.19V1107.25" fill="none" stroke="#262626" stroke-width="1.9"/>
<circle cx="157.64" cy="1104.5" r="2.2" fill="#262626" stroke="none"/>
<circle cx="162.64" cy="1104" r="2.2" fill="#262626" stroke="none"/>
<circle cx="167.64" cy="1104.5" r="2.2" fill="#262626" stroke="none"/>
<line x1="162.64" y1="1107.25" x2="162.64" y2="1112.85" stroke="#1a1a1a" stroke-width="1.45"/>
<text transform="translate(165.94,1122.95) rotate(-45)" font-size="11.2" text-anchor="end">Death phase</text>
<line x1="47.275" y1="1107.25" x2="184" y2="1107.25" stroke="#1a1a1a" stroke-width="1.45"/>
<text x="361.25" y="953.25" font-size="13.2" font-style="italic" text-anchor="middle">sodB</text>
<text transform="translate(271.7,1038.8) rotate(-90)" font-size="13" text-anchor="middle">Relative expression level</text>
<line x1="292.75" y1="1107.75" x2="292.75" y2="972.5" stroke="#1a1a1a" stroke-width="1.45"/>
<line x1="287.75" y1="1107.75" x2="292.75" y2="1107.75" stroke="#1a1a1a" stroke-width="1.45"/>
<text x="285.75" y="1111.6" font-size="11.2" text-anchor="end">0</text>
<line x1="287.75" y1="1073.9375" x2="292.75" y2="1073.9375" stroke="#1a1a1a" stroke-width="1.45"/>
<text x="285.75" y="1077.7875" font-size="11.2" text-anchor="end">1</text>
<line x1="287.75" y1="1040.125" x2="292.75" y2="1040.125" stroke="#1a1a1a" stroke-width="1.45"/>
<text x="285.75" y="1043.975" font-size="11.2" text-anchor="end">2</text>
<line x1="287.75" y1="1006.3125" x2="292.75" y2="1006.3125" stroke="#1a1a1a" stroke-width="1.45"/>
<text x="285.75" y="1010.1625" font-size="11.2" text-anchor="end">3</text>
<line x1="287.75" y1="972.5" x2="292.75" y2="972.5" stroke="#1a1a1a" stroke-width="1.45"/>
<text x="285.75" y="976.35" font-size="11.2" text-anchor="end">4</text>
<line x1="292.025" y1="1107.75" x2="428.75" y2="1107.75" stroke="#1a1a1a" stroke-width="1.45"/>
<path d="M304.2 1107.75V1074.61375H323.3V1107.75" fill="none" stroke="#a6a6a6" stroke-width="1.9"/>
<circle cx="308.75" cy="1075" r="2.2" fill="#a6a6a6" stroke="none"/>
<circle cx="313.75" cy="1073.5" r="2.2" fill="#a6a6a6" stroke="none"/>
<circle cx="318.75" cy="1074" r="2.2" fill="#a6a6a6" stroke="none"/>
<line x1="313.75" y1="1107.75" x2="313.75" y2="1113.35" stroke="#1a1a1a" stroke-width="1.45"/>
<text transform="translate(317.25,1123.65) rotate(-45)" font-size="11.2" text-anchor="end">Lag phase</text>
<path d="M335.33 1107.75V1091.6890625H354.43V1107.75" fill="none" stroke="#808080" stroke-width="1.9"/>
<circle cx="339.88" cy="1092" r="2.2" fill="#808080" stroke="none"/>
<circle cx="344.88" cy="1090.5" r="2.2" fill="#808080" stroke="none"/>
<circle cx="349.88" cy="1091.5" r="2.2" fill="#808080" stroke="none"/>
<line x1="344.88" y1="1107.75" x2="344.88" y2="1113.35" stroke="#1a1a1a" stroke-width="1.45"/>
<text transform="translate(348.38,1123.65) rotate(-45)" font-size="11.2" text-anchor="end">Logarithmic phase</text>
<path d="M366.46 1107.75V994.478125H385.56V1107.75" fill="none" stroke="#595959" stroke-width="1.9"/>
<circle cx="373.01" cy="993" r="2.2" fill="#595959" stroke="none"/>
<circle cx="376.01" cy="996" r="2.2" fill="#595959" stroke="none"/>
<circle cx="379.01" cy="993" r="2.2" fill="#595959" stroke="none"/>
<line x1="376.01" y1="1107.75" x2="376.01" y2="1113.35" stroke="#1a1a1a" stroke-width="1.45"/>
<text transform="translate(379.51,1123.65) rotate(-45)" font-size="11.2" text-anchor="end">Stationary phase</text>
<path d="M397.59 1107.75V1099.296875H416.69V1107.75" fill="none" stroke="#262626" stroke-width="1.9"/>
<circle cx="402.14" cy="1099.5" r="2.2" fill="#262626" stroke="none"/>
<circle cx="407.14" cy="1098" r="2.2" fill="#262626" stroke="none"/>
<circle cx="412.14" cy="1099" r="2.2" fill="#262626" stroke="none"/>
<line x1="407.14" y1="1107.75" x2="407.14" y2="1113.35" stroke="#1a1a1a" stroke-width="1.45"/>
<text transform="translate(410.64,1123.65) rotate(-45)" font-size="11.2" text-anchor="end">Death phase</text>
<line x1="292.025" y1="1107.75" x2="428.75" y2="1107.75" stroke="#1a1a1a" stroke-width="1.45"/>
<text x="615" y="950" font-size="13.2" font-style="italic" text-anchor="middle">sodC</text>
<text transform="translate(527,1035.8) rotate(-90)" font-size="13" text-anchor="middle">Relative expression level</text>
<line x1="547.5" y1="1104.75" x2="547.5" y2="968.75" stroke="#1a1a1a" stroke-width="1.45"/>
<line x1="542.5" y1="1104.75" x2="547.5" y2="1104.75" stroke="#1a1a1a" stroke-width="1.45"/>
<text x="540.5" y="1108.6" font-size="11.2" text-anchor="end">0</text>
<line x1="542.5" y1="1059.4166666666667" x2="547.5" y2="1059.4166666666667" stroke="#1a1a1a" stroke-width="1.45"/>
<text x="540.5" y="1063.2666666666667" font-size="11.2" text-anchor="end">1</text>
<line x1="542.5" y1="1014.0833333333334" x2="547.5" y2="1014.0833333333334" stroke="#1a1a1a" stroke-width="1.45"/>
<text x="540.5" y="1017.9333333333334" font-size="11.2" text-anchor="end">2</text>
<line x1="542.5" y1="968.75" x2="547.5" y2="968.75" stroke="#1a1a1a" stroke-width="1.45"/>
<text x="540.5" y="972.6" font-size="11.2" text-anchor="end">3</text>
<line x1="546.775" y1="1104.75" x2="683.5" y2="1104.75" stroke="#1a1a1a" stroke-width="1.45"/>
<path d="M558.7 1104.75V1059.87H577.8V1104.75" fill="none" stroke="#a6a6a6" stroke-width="1.9"/>
<path d="M568.25 1057V1062.5M562.95 1057H573.55M562.95 1062.5H573.55" fill="none" stroke="#a6a6a6" stroke-width="1.4"/>
<circle cx="565.25" cy="1056.5" r="2.2" fill="#a6a6a6" stroke="none"/>
<circle cx="571.25" cy="1059.5" r="2.2" fill="#a6a6a6" stroke="none"/>
<circle cx="568.25" cy="1063.75" r="2.2" fill="#a6a6a6" stroke="none"/>
<line x1="568.25" y1="1104.75" x2="568.25" y2="1110.35" stroke="#1a1a1a" stroke-width="1.45"/>
<text transform="translate(572.05,1120.45) rotate(-45)" font-size="11.2" text-anchor="end">Lag phase</text>
<path d="M589.83 1104.75V1092.0566666666666H608.93V1104.75" fill="none" stroke="#808080" stroke-width="1.9"/>
<circle cx="594.38" cy="1092" r="2.2" fill="#808080" stroke="none"/>
<circle cx="599.38" cy="1090.5" r="2.2" fill="#808080" stroke="none"/>
<circle cx="604.38" cy="1092" r="2.2" fill="#808080" stroke="none"/>
<line x1="599.38" y1="1104.75" x2="599.38" y2="1110.35" stroke="#1a1a1a" stroke-width="1.45"/>
<text transform="translate(603.18,1120.45) rotate(-45)" font-size="11.2" text-anchor="end">Logarithmic phase</text>
<path d="M620.96 1104.75V1014.31H640.06V1104.75" fill="none" stroke="#595959" stroke-width="1.9"/>
<path d="M630.51 1011.25V1017.5M625.21 1011.25H635.81M625.21 1017.5H635.81" fill="none" stroke="#595959" stroke-width="1.4"/>
<circle cx="630.51" cy="1010" r="2.2" fill="#595959" stroke="none"/>
<circle cx="629.51" cy="1015" r="2.2" fill="#595959" stroke="none"/>
<circle cx="631.51" cy="1017" r="2.2" fill="#595959" stroke="none"/>
<line x1="630.51" y1="1104.75" x2="630.51" y2="1110.35" stroke="#1a1a1a" stroke-width="1.45"/>
<text transform="translate(634.31,1120.45) rotate(-45)" font-size="11.2" text-anchor="end">Stationary phase</text>
<path d="M652.09 1104.75V1001.8433333333334H671.1899999999999V1104.75" fill="none" stroke="#262626" stroke-width="1.9"/>
<path d="M661.64 989.25V1013.25M656.34 989.25H666.9399999999999M656.34 1013.25H666.9399999999999" fill="none" stroke="#262626" stroke-width="1.4"/>
<circle cx="661.64" cy="985.75" r="2.2" fill="#262626" stroke="none"/>
<circle cx="661.64" cy="993.75" r="2.2" fill="#262626" stroke="none"/>
<circle cx="661.64" cy="1023.75" r="2.2" fill="#262626" stroke="none"/>
<line x1="661.64" y1="1104.75" x2="661.64" y2="1110.35" stroke="#1a1a1a" stroke-width="1.45"/>
<text transform="translate(665.44,1120.45) rotate(-45)" font-size="11.2" text-anchor="end">Death phase</text>
<line x1="546.775" y1="1104.75" x2="683.5" y2="1104.75" stroke="#1a1a1a" stroke-width="1.45"/>
<text x="123.25" y="1271.75" font-size="13.2" font-style="italic" text-anchor="middle">katG</text>
<text transform="translate(24.3,1357.4) rotate(-90)" font-size="13" text-anchor="middle">Relative expression level</text>
<line x1="55" y1="1426.25" x2="55" y2="1362.55" stroke="#1a1a1a" stroke-width="1.45"/>
<line x1="50" y1="1426.25" x2="55" y2="1426.25" stroke="#1a1a1a" stroke-width="1.45"/>
<text x="48.0" y="1430.1" font-size="11.2" text-anchor="end">0.0</text>
<line x1="50" y1="1405.4166666666667" x2="55" y2="1405.4166666666667" stroke="#1a1a1a" stroke-width="1.45"/>
<text x="48.0" y="1409.2666666666667" font-size="11.2" text-anchor="end">0.5</text>
<line x1="50" y1="1384.5833333333333" x2="55" y2="1384.5833333333333" stroke="#1a1a1a" stroke-width="1.45"/>
<text x="48.0" y="1388.4333333333332" font-size="11.2" text-anchor="end">1.0</text>
<text x="48.0" y="1367.6" font-size="11.2" text-anchor="end">1.5</text>
<line x1="55" y1="1354.2" x2="55" y2="1291.25" stroke="#1a1a1a" stroke-width="1.45"/>
<text x="48.0" y="1357.6" font-size="11.2" text-anchor="end">2.0</text>
<line x1="50" y1="1343.3333333333333" x2="55" y2="1343.3333333333333" stroke="#1a1a1a" stroke-width="1.45"/>
<text x="48.0" y="1347.1833333333332" font-size="11.2" text-anchor="end">2.5</text>
<line x1="50" y1="1332.9166666666667" x2="55" y2="1332.9166666666667" stroke="#1a1a1a" stroke-width="1.45"/>
<text x="48.0" y="1336.7666666666667" font-size="11.2" text-anchor="end">3.0</text>
<line x1="50" y1="1322.5" x2="55" y2="1322.5" stroke="#1a1a1a" stroke-width="1.45"/>
<text x="48.0" y="1326.35" font-size="11.2" text-anchor="end">3.5</text>
<line x1="50" y1="1312.0833333333333" x2="55" y2="1312.0833333333333" stroke="#1a1a1a" stroke-width="1.45"/>
<text x="48.0" y="1315.9333333333332" font-size="11.2" text-anchor="end">4.0</text>
<line x1="50" y1="1301.6666666666667" x2="55" y2="1301.6666666666667" stroke="#1a1a1a" stroke-width="1.45"/>
<text x="48.0" y="1305.5166666666667" font-size="11.2" text-anchor="end">4.5</text>
<line x1="50" y1="1291.25" x2="55" y2="1291.25" stroke="#1a1a1a" stroke-width="1.45"/>
<text x="48.0" y="1295.1" font-size="11.2" text-anchor="end">5.0</text>
<line x1="51.4" y1="1359.25" x2="58.6" y2="1365.85" stroke="#1a1a1a" stroke-width="1.45"/>
<line x1="51.4" y1="1350.9" x2="58.6" y2="1357.5" stroke="#1a1a1a" stroke-width="1.45"/>
<line x1="54.275" y1="1426.25" x2="191" y2="1426.25" stroke="#1a1a1a" stroke-width="1.45"/>
<path d="M66.45 1426.25V1384.5833333333333H85.55V1426.25" fill="none" stroke="#a6a6a6" stroke-width="1.9"/>
<path d="M76.0 1379.5V1388M70.7 1379.5H81.3M70.7 1388H81.3" fill="none" stroke="#a6a6a6" stroke-width="1.4"/>
<circle cx="76.0" cy="1377.25" r="2.2" fill="#a6a6a6" stroke="none"/>
<circle cx="76.0" cy="1384.5" r="2.2" fill="#a6a6a6" stroke="none"/>
<circle cx="76.0" cy="1391.75" r="2.2" fill="#a6a6a6" stroke="none"/>
<line x1="76.0" y1="1426.25" x2="76.0" y2="1431.85" stroke="#1a1a1a" stroke-width="1.45"/>
<text transform="translate(79.3,1441.95) rotate(-45)" font-size="11.2" text-anchor="end">Lag phase</text>
<path d="M97.58 1426.25V1417.7083333333333H116.67999999999999V1426.25" fill="none" stroke="#808080" stroke-width="1.9"/>
<circle cx="104.13" cy="1416" r="2.2" fill="#808080" stroke="none"/>
<circle cx="107.13" cy="1418" r="2.2" fill="#808080" stroke="none"/>
<circle cx="111.13" cy="1417.5" r="2.2" fill="#808080" stroke="none"/>
<line x1="107.13" y1="1426.25" x2="107.13" y2="1431.85" stroke="#1a1a1a" stroke-width="1.45"/>
<text transform="translate(110.43,1441.95) rotate(-45)" font-size="11.2" text-anchor="end">Logarithmic phase</text>
<path d="M128.70999999999998 1426.25V1363.45M147.81 1426.25V1363.45M128.70999999999998 1353.05V1319.5833333333333H147.81V1353.05" fill="none" stroke="#595959" stroke-width="1.9"/>
<path d="M138.26 1309.75V1327.5M132.95999999999998 1309.75H143.56M132.95999999999998 1327.5H143.56" fill="none" stroke="#595959" stroke-width="1.4"/>
<circle cx="138.26" cy="1302.75" r="2.2" fill="#595959" stroke="none"/>
<circle cx="138.26" cy="1320" r="2.2" fill="#595959" stroke="none"/>
<circle cx="138.26" cy="1333.75" r="2.2" fill="#595959" stroke="none"/>
<line x1="138.26" y1="1426.25" x2="138.26" y2="1431.85" stroke="#1a1a1a" stroke-width="1.45"/>
<text transform="translate(141.56,1441.95) rotate(-45)" font-size="11.2" text-anchor="end">Stationary phase</text>
<path d="M159.83999999999997 1426.25V1394.7916666666667H178.94V1426.25" fill="none" stroke="#262626" stroke-width="1.9"/>
<path d="M169.39 1391V1397.5M164.08999999999997 1391H174.69M164.08999999999997 1397.5H174.69" fill="none" stroke="#262626" stroke-width="1.4"/>
<circle cx="169.39" cy="1389" r="2.2" fill="#262626" stroke="none"/>
<circle cx="169.39" cy="1395.5" r="2.2" fill="#262626" stroke="none"/>
<circle cx="169.39" cy="1399.25" r="2.2" fill="#262626" stroke="none"/>
<line x1="169.39" y1="1426.25" x2="169.39" y2="1431.85" stroke="#1a1a1a" stroke-width="1.45"/>
<text transform="translate(172.69,1441.95) rotate(-45)" font-size="11.2" text-anchor="end">Death phase</text>
<line x1="54.275" y1="1426.25" x2="191" y2="1426.25" stroke="#1a1a1a" stroke-width="1.45"/>
<text x="364.25" y="1271.75" font-size="13.2" font-style="italic" text-anchor="middle">katE</text>
<text transform="translate(269.2,1357.4) rotate(-90)" font-size="13" text-anchor="middle">Relative expression level</text>
<line x1="295.5" y1="1426.25" x2="295.5" y2="1362.3" stroke="#1a1a1a" stroke-width="1.45"/>
<line x1="290.5" y1="1426.25" x2="295.5" y2="1426.25" stroke="#1a1a1a" stroke-width="1.45"/>
<text x="288.5" y="1430.1" font-size="11.2" text-anchor="end">0</text>
<line x1="290.5" y1="1413.7" x2="295.5" y2="1413.7" stroke="#1a1a1a" stroke-width="1.45"/>
<text x="288.5" y="1417.55" font-size="11.2" text-anchor="end">1</text>
<line x1="290.5" y1="1401.15" x2="295.5" y2="1401.15" stroke="#1a1a1a" stroke-width="1.45"/>
<text x="288.5" y="1405.0" font-size="11.2" text-anchor="end">2</text>
<line x1="290.5" y1="1388.6" x2="295.5" y2="1388.6" stroke="#1a1a1a" stroke-width="1.45"/>
<text x="288.5" y="1392.4499999999998" font-size="11.2" text-anchor="end">3</text>
<line x1="290.5" y1="1376.05" x2="295.5" y2="1376.05" stroke="#1a1a1a" stroke-width="1.45"/>
<text x="288.5" y="1379.8999999999999" font-size="11.2" text-anchor="end">4</text>
<text x="288.5" y="1367.35" font-size="11.2" text-anchor="end">5</text>
<line x1="295.5" y1="1353.7" x2="295.5" y2="1290.5" stroke="#1a1a1a" stroke-width="1.45"/>
<text x="288.5" y="1357.1" font-size="11.2" text-anchor="end">10</text>
<line x1="290.5" y1="1337.5625" x2="295.5" y2="1337.5625" stroke="#1a1a1a" stroke-width="1.45"/>
<text x="288.5" y="1341.4125" font-size="11.2" text-anchor="end">20</text>
<line x1="290.5" y1="1321.875" x2="295.5" y2="1321.875" stroke="#1a1a1a" stroke-width="1.45"/>
<text x="288.5" y="1325.725" font-size="11.2" text-anchor="end">30</text>
<line x1="290.5" y1="1306.1875" x2="295.5" y2="1306.1875" stroke="#1a1a1a" stroke-width="1.45"/>
<text x="288.5" y="1310.0375" font-size="11.2" text-anchor="end">40</text>
<line x1="290.5" y1="1290.5" x2="295.5" y2="1290.5" stroke="#1a1a1a" stroke-width="1.45"/>
<text x="288.5" y="1294.35" font-size="11.2" text-anchor="end">50</text>
<line x1="291.9" y1="1359.0" x2="299.1" y2="1365.6" stroke="#1a1a1a" stroke-width="1.45"/>
<line x1="291.9" y1="1350.4" x2="299.1" y2="1357.0" stroke="#1a1a1a" stroke-width="1.45"/>
<line x1="294.775" y1="1426.25" x2="431.5" y2="1426.25" stroke="#1a1a1a" stroke-width="1.45"/>
<path d="M306.95 1426.25V1413.951H326.05V1426.25" fill="none" stroke="#a6a6a6" stroke-width="1.9"/>
<circle cx="311.5" cy="1414.5" r="2.2" fill="#a6a6a6" stroke="none"/>
<circle cx="316.5" cy="1413" r="2.2" fill="#a6a6a6" stroke="none"/>
<circle cx="321.5" cy="1413.5" r="2.2" fill="#a6a6a6" stroke="none"/>
<line x1="316.5" y1="1426.25" x2="316.5" y2="1431.85" stroke="#1a1a1a" stroke-width="1.45"/>
<text transform="translate(320.0,1442.15) rotate(-45)" font-size="11.2" text-anchor="end">Lag phase</text>
<path d="M338.08 1426.25V1417.716H357.18V1426.25" fill="none" stroke="#808080" stroke-width="1.9"/>
<circle cx="342.63" cy="1418" r="2.2" fill="#808080" stroke="none"/>
<circle cx="347.63" cy="1416.5" r="2.2" fill="#808080" stroke="none"/>
<circle cx="352.63" cy="1417.5" r="2.2" fill="#808080" stroke="none"/>
<line x1="347.63" y1="1426.25" x2="347.63" y2="1431.85" stroke="#1a1a1a" stroke-width="1.45"/>
<text transform="translate(351.13,1442.15) rotate(-45)" font-size="11.2" text-anchor="end">Logarithmic phase</text>
<path d="M369.21 1426.25V1363.2M388.31 1426.25V1363.2M369.21 1352.55V1304.9325H388.31V1352.55" fill="none" stroke="#595959" stroke-width="1.9"/>
<path d="M378.76 1298V1310.75M373.46 1298H384.06M373.46 1310.75H384.06" fill="none" stroke="#595959" stroke-width="1.4"/>
<circle cx="378.76" cy="1294.75" r="2.2" fill="#595959" stroke="none"/>
<circle cx="378.76" cy="1301.75" r="2.2" fill="#595959" stroke="none"/>
<circle cx="378.76" cy="1316.75" r="2.2" fill="#595959" stroke="none"/>
<line x1="378.76" y1="1426.25" x2="378.76" y2="1431.85" stroke="#1a1a1a" stroke-width="1.45"/>
<text transform="translate(382.26,1442.15) rotate(-45)" font-size="11.2" text-anchor="end">Stationary phase</text>
<path d="M400.34 1426.25V1376.8029999999999H419.44V1426.25" fill="none" stroke="#262626" stroke-width="1.9"/>
<path d="M409.89 1371.25V1380.75M404.59 1371.25H415.19M404.59 1380.75H415.19" fill="none" stroke="#262626" stroke-width="1.4"/>
<circle cx="409.89" cy="1369" r="2.2" fill="#262626" stroke="none"/>
<circle cx="409.89" cy="1376.5" r="2.2" fill="#262626" stroke="none"/>
<circle cx="409.89" cy="1384" r="2.2" fill="#262626" stroke="none"/>
<line x1="409.89" y1="1426.25" x2="409.89" y2="1431.85" stroke="#1a1a1a" stroke-width="1.45"/>
<text transform="translate(413.39,1442.15) rotate(-45)" font-size="11.2" text-anchor="end">Death phase</text>
<line x1="294.775" y1="1426.25" x2="431.5" y2="1426.25" stroke="#1a1a1a" stroke-width="1.45"/>
</g></svg>
</body></html>
